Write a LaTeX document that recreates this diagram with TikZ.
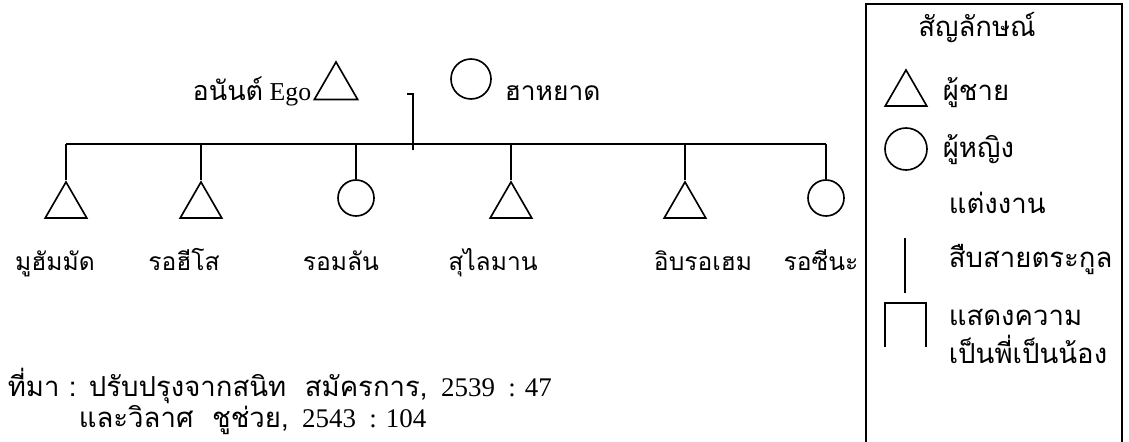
\documentclass[tikz,border=0pt]{standalone}
\usepackage{fontspec}
\setmainfont{Liberation Serif}
\newfontfamily\thaifont[Script=Thai]{Loma}
\usetikzlibrary{shapes.geometric}
\tikzset{>=latex}
\tikzset{
	male/.style = {draw, regular polygon, regular polygon sides = 3, minimum size = 14.4mm, inner sep = 0pt},
	female/.style = {draw, circle, minimum size = 10.8mm, inner sep = 0pt},
	thtext/.style = {font = {\thaifont\fontsize{21pt}{25}\selectfont}, inner sep = 0pt},
	keytext/.style = {font = {\thaifont\fontsize{23.5pt}{28}\selectfont}, inner sep = 0pt}
}

\begin{document}
\begin{tikzpicture}[x = 0.3mm, y = -0.3mm, line width = 1.4pt, font = {\fontsize{23pt}{28}\selectfont}]
\useasboundingbox[fill = white] (0,0) rectangle (1129,442);

% parents
\node[male, minimum size = 15mm] (EGO) at (336, 87) {};
\node[female, minimum size = 12mm] (WIFE) at (471, 79) {};
\node[anchor = base east, inner sep = 0pt, font = {\fontsize{22pt}{26}\selectfont}] (EGO-lbl) at (312, 100) {{\thaifont\fontsize{23pt}{27}\selectfont อนันต์} Ego};
\node[thtext, anchor = base west, font = {\thaifont\fontsize{22.5pt}{27}\selectfont}] (WIFE-lbl) at (504, 100) {ฮาหยาด};

% children
\node[male] (MUH) at (66, 206) {};
\node[male] (ROH) at (201, 206) {};
\node[female] (ROM) at (356, 198) {};
\node[male] (SUL) at (511, 206) {};
\node[male] (IBR) at (685, 206) {};
\node[female] (ROS) at (826, 198) {};

\node[thtext, anchor = base] (MUH-lbl) at (55, 270) {มูฮัมมัด};
\node[thtext, anchor = base] (ROH-lbl) at (184, 270) {รอฮีโส};
\node[thtext, anchor = base] (ROM-lbl) at (341, 270) {รอมลัน};
\node[thtext, anchor = base] (SUL-lbl) at (493, 270) {สุไลมาน};
\node[thtext, anchor = base] (IBR-lbl) at (703, 270) {อิบรอเฮม};
\node[thtext, anchor = base] (ROS-lbl) at (821, 270) {รอซีนะ};

\coordinate (STUB) at (407, 94);
\coordinate (DESC-top) at (413, 94);
\coordinate (DESC-bot) at (413, 150);
\coordinate (MUH-top) at (66, 144);
\coordinate (ROH-top) at (201, 144);
\coordinate (ROM-top) at (356, 144);
\coordinate (SUL-top) at (511, 144);
\coordinate (IBR-top) at (685, 144);
\coordinate (ROS-top) at (826, 144);

\draw (STUB) -- (DESC-top) -- (DESC-bot);
\draw (MUH-top) -- (ROS-top);
\draw (MUH-top) -- (MUH);
\draw (ROH-top) -- (ROH);
\draw (ROM-top) -- (ROM);
\draw (SUL-top) -- (SUL);
\draw (IBR-top) -- (IBR);
\draw (ROS-top) -- (ROS);

% source
\node[anchor = base west, inner sep = 0pt] (SRC1) at (7, 396) {{\thaifont\fontsize{23.5pt}{28}\selectfont ที่มา : ปรับปรุงจากสนิท \ สมัครการ,} \ 2539 \ : 47};
\node[anchor = base west, inner sep = 0pt] (SRC2) at (78, 427) {{\thaifont\fontsize{23.5pt}{28}\selectfont และวิลาศ \ ชูช่วย,} \ 2543 \ : 104};

% legend
\draw (866, 447) -- (866, 4) -- (1122, 4) -- (1122, 447);
\node[keytext, anchor = base] (KEY) at (977, 37) {สัญลักษณ์};
\node[male] (KEY-M) at (906, 94) {};
\node[female, minimum size = 12.6mm] (KEY-F) at (906, 149) {};
\node[keytext, anchor = base west] (KEY-M-lbl) at (942, 100) {ผู้ชาย};
\node[keytext, anchor = base west] (KEY-F-lbl) at (942, 157) {ผู้หญิง};
\node[keytext, anchor = base west] (KEY-MAR-lbl) at (948, 213) {แต่งงาน};
\coordinate (KEY-D-top) at (905, 238);
\coordinate (KEY-D-bot) at (905, 293);
\draw[line width = 0.9pt] (KEY-D-top) -- (KEY-D-bot);
\node[keytext, anchor = base west] (KEY-D-lbl) at (948, 267) {สืบสายตระกูล};
\coordinate (KEY-S-a) at (885, 347);
\coordinate (KEY-S-b) at (885, 303);
\coordinate (KEY-S-c) at (926, 303);
\coordinate (KEY-S-d) at (926, 347);
\draw[line width = 0.9pt] (KEY-S-a) -- (KEY-S-b) -- (KEY-S-c) -- (KEY-S-d);
\node[keytext, anchor = base west] (KEY-S-lbl) at (948, 325) {แสดงความ};
\node[keytext, anchor = base west] (KEY-S-lbl2) at (948, 363) {เป็นพี่เป็นน้อง};
\end{tikzpicture}
\end{document}
